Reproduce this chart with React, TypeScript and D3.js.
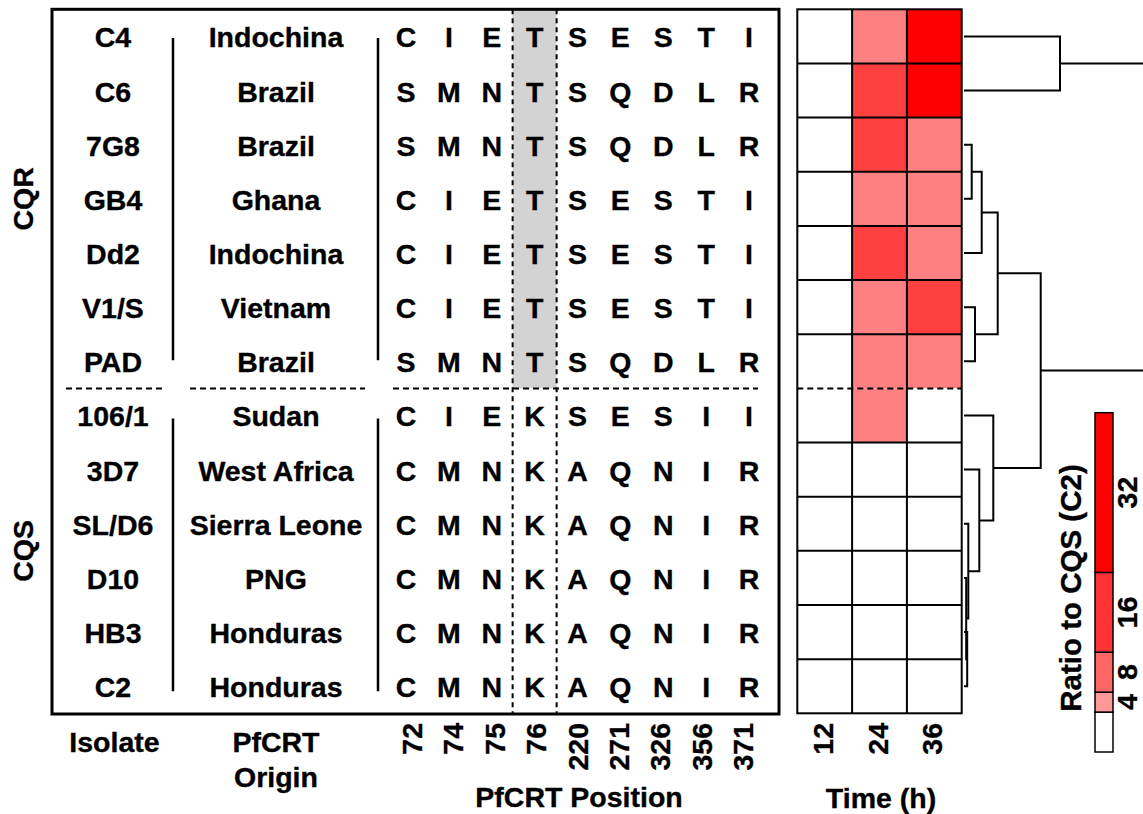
import React from 'react';
import * as d3 from 'd3';

const isolates = ['C4', 'C6', '7G8', 'GB4', 'Dd2', 'V1/S', 'PAD', '106/1', '3D7', 'SL/D6', 'D10', 'HB3', 'C2'];
const origins = ['Indochina', 'Brazil', 'Brazil', 'Ghana', 'Indochina', 'Vietnam', 'Brazil', 'Sudan', 'West Africa', 'Sierra Leone', 'PNG', 'Honduras', 'Honduras'];
const positions = ['72', '74', '75', '76', '220', '271', '326', '356', '371'];
const residues = [
  'CIETSESTI', 'SMNTSQDLR', 'SMNTSQDLR', 'CIETSESTI', 'CIETSESTI', 'CIETSESTI', 'SMNTSQDLR',
  'CIEKSESII', 'CMNKAQNIR', 'CMNKAQNIR', 'CMNKAQNIR', 'CMNKAQNIR', 'CMNKAQNIR',
];
const groups = [
  { name: 'CQR', first: 0, last: 6 },
  { name: 'CQS', first: 7, last: 12 },
];
const highlightPos = '76';
const times = ['12', '24', '36'];
const ratio12 = [1, 1, 1, 1, 1, 1, 1, 1, 1, 1, 1, 1, 1];
const ratio24 = [6, 20, 20, 6, 20, 6, 6, 6, 1, 1, 1, 1, 1];
const ratio36 = [40, 40, 6, 6, 6, 20, 6, 1, 1, 1, 1, 1, 1];
const heatBreaks = [4, 16, 32];
const heatColors = ['#FFFFFF', '#FF8080', '#FF4040', '#FF0000'];
const legendEdges = [-4, 4, 8, 16, 32, 64];
const legendColors = ['#FFFFFF', '#FF9999', '#FF6666', '#FF3333', '#FF0000'];
const legendTicks = [4, 8, 16, 32];

type TNode = { h: number; c: (TNode | string)[] };
const tree: TNode = {
  h: 2.6,
  c: [
    { h: 0.96, c: ['C4', 'C6'] },
    {
      h: 0.767,
      c: [
        {
          h: 0.337,
          c: [
            { h: 0.177, c: [{ h: 0.077, c: ['7G8', 'GB4'] }, 'Dd2'] },
            { h: 0.11, c: ['V1/S', 'PAD'] },
          ],
        },
        {
          h: 0.293,
          c: [
            '106/1',
            {
              h: 0.153,
              c: ['3D7', { h: 0.043, c: ['SL/D6', { h: 0.022, c: ['D10', { h: 0.032, c: ['HB3', 'C2'] }] }] }],
            },
          ],
        },
      ],
    },
  ],
};

const FONT = '"Liberation Sans", Arial, Helvetica, sans-serif';
const W = 1143;
const H = 814;

export default function App() {
  const y = d3.scaleBand<string>().domain(isolates).range([9.3, 713.3]);
  const rc = (name: string) => (y(name) as number) + y.bandwidth() / 2;
  const xPos = d3.scalePoint<string>().domain(positions).range([406, 749]);
  const xTick = d3.scalePoint<string>().domain(positions).range([412, 743]);
  const xTime = d3.scaleBand<string>().domain(times).range([797.3, 961.7]);
  const heatColor = d3.scaleThreshold<number, string>().domain(heatBreaks).range(heatColors);
  const xDend = d3.scaleLinear().domain([0, 1]).range([964, 1064]);
  const yLeg = d3.scaleLinear().domain([legendEdges[0], legendEdges[legendEdges.length - 1]]).range([752, 412.7]);

  const ratios = [ratio12, ratio24, ratio36];
  const cells: { key: string; x: number; y: number; w: number; h: number; fill: string }[] = [];
  times.forEach((t, j) => {
    isolates.forEach((iso, i) => {
      cells.push({
        key: t + iso,
        x: xTime(t) as number,
        y: y(iso) as number,
        w: xTime.bandwidth(),
        h: y.bandwidth(),
        fill: heatColor(ratios[j][i]),
      });
    });
  });

  // dendrogram
  const root = d3.hierarchy<any>(tree, (d: any) =>
    d.c ? d.c.map((x: any) => (typeof x === 'string' ? { name: x } : x)) : null
  );
  const pos = new Map<any, { x: number; y: number }>();
  root.eachAfter((n: any) => {
    if (!n.children) {
      pos.set(n, { x: xDend(0), y: rc(n.data.name) });
    } else {
      const ys = n.children.map((c: any) => pos.get(c)!.y);
      pos.set(n, { x: xDend(n.data.h), y: d3.mean(ys) as number });
    }
  });
  const dendPaths: string[] = [];
  root.each((n: any) => {
    if (n.children) {
      const p = pos.get(n)!;
      const a = pos.get(n.children[0])!;
      const b = pos.get(n.children[1])!;
      dendPaths.push(`M${a.x},${a.y}H${p.x}V${b.y}H${b.x}`);
    }
  });

  const splitY = (y(isolates[groups[0].last]) as number) + y.bandwidth();
  const hiX0 = (xPos(highlightPos) as number) - 22;
  const hiX1 = (xPos(highlightPos) as number) + 22;

  const txt = {
    fontFamily: FONT,
    fontWeight: 700,
    fontSize: 28.5,
    fill: '#000',
    stroke: '#000',
    strokeWidth: 0.35,
  } as const;

  return (
    <svg
      width={W}
      height={H}
      style={{ position: 'absolute', left: 0, top: 0, display: 'block', background: '#fff' }}
    >
      {/* gray highlight */}
      <rect x={hiX0} y={9.3} width={hiX1 - hiX0} height={splitY - 9.3} fill="#D3D3D3" />
      {/* table border */}
      <rect x={52} y={9.3} width={727} height={704.7} fill="none" stroke="#000" strokeWidth={3} />
      {/* vertical dashed lines around highlight */}
      {[hiX0, hiX1].map((x, i) => (
        <line key={i} x1={x} x2={x} y1={9.3} y2={713} stroke="#000" strokeWidth={2} strokeDasharray="5,4" />
      ))}
      {/* horizontal dashed split */}
      {[
        [66, 162],
        [190, 365],
        [393, 758],
      ].map(([a, b], i) => (
        <line key={i} x1={a} x2={b} y1={splitY} y2={splitY} stroke="#000" strokeWidth={2} strokeDasharray="6,4" />
      ))}
      {/* group separator lines */}
      {groups.map((g, gi) =>
        [173, 378].map((x) => (
          <line
            key={g.name + x}
            x1={x}
            x2={x}
            y1={rc(isolates[g.first]) + (gi === 0 ? 1.5 : 3)}
            y2={rc(isolates[g.last]) + (gi === 0 ? -1 : 5)}
            stroke="#000"
            strokeWidth={2.5}
          />
        ))
      )}
      {/* row texts */}
      {isolates.map((iso, i) => (
        <g key={iso}>
          <text x={113} y={rc(iso) + 1} textAnchor="middle" dominantBaseline="central" {...txt}>
            {iso}
          </text>
          <text x={276} y={rc(iso) + 1} textAnchor="middle" dominantBaseline="central" {...txt}>
            {origins[i]}
          </text>
          {positions.map((p, k) => (
            <text key={p} x={xPos(p)} y={rc(iso) + 1} textAnchor="middle" dominantBaseline="central" {...txt}>
              {residues[i][k]}
            </text>
          ))}
        </g>
      ))}
      {/* group labels */}
      {groups.map((g) => {
        const cy = ((y(isolates[g.first]) as number) + (y(isolates[g.last]) as number) + y.bandwidth()) / 2;
        return (
          <text
            key={g.name}
            transform={`translate(23,${cy}) rotate(-90)`}
            textAnchor="middle"
            dominantBaseline="central"
            {...txt}
          >
            {g.name}
          </text>
        );
      })}
      {/* bottom labels */}
      <text x={114.5} y={752} textAnchor="middle" {...txt}>
        Isolate
      </text>
      <text x={276} y={752} textAnchor="middle" {...txt}>
        PfCRT
      </text>
      <text x={276} y={787} textAnchor="middle" {...txt}>
        Origin
      </text>
      <text x={579} y={806.5} textAnchor="middle" {...txt}>
        PfCRT Position
      </text>
      {positions.map((p) => (
        <text
          key={p}
          transform={`translate(${xTick(p)},723) rotate(-90)`}
          textAnchor="end"
          dominantBaseline="central"
          {...txt}
        >
          {p}
        </text>
      ))}
      {/* heatmap */}
      {cells.map((c) => (
        <rect key={c.key} x={c.x} y={c.y} width={c.w} height={c.h} fill={c.fill} />
      ))}
      {times.slice(1).map((t) => (
        <line key={t} x1={xTime(t)} x2={xTime(t)} y1={9.3} y2={713.3} stroke="#000" strokeWidth={2} />
      ))}
      {isolates.slice(1).map((iso, i) => (
        <line
          key={iso}
          x1={797.3}
          x2={961.7}
          y1={y(iso)}
          y2={y(iso)}
          stroke="#000"
          strokeWidth={2}
          strokeDasharray={i === groups[0].last ? '6,4' : undefined}
        />
      ))}
      <rect x={797.3} y={9.3} width={164.4} height={704} fill="none" stroke="#000" strokeWidth={2} />
      {times.map((t) => (
        <text
          key={t}
          transform={`translate(${(xTime(t) as number) + xTime.bandwidth() / 2 - 2},723) rotate(-90)`}
          textAnchor="end"
          dominantBaseline="central"
          {...txt}
        >
          {t}
        </text>
      ))}
      <text x={881} y={807.5} textAnchor="middle" {...txt}>
        Time (h)
      </text>
      {/* dendrogram */}
      {dendPaths.map((d, i) => (
        <path key={i} d={d} fill="none" stroke="#000" strokeWidth={2} />
      ))}
      {/* legend */}
      {legendColors.map((c, i) => (
        <rect
          key={i}
          x={1095}
          y={yLeg(legendEdges[i + 1])}
          width={18}
          height={yLeg(legendEdges[i]) - yLeg(legendEdges[i + 1])}
          fill={c}
          stroke="#000"
          strokeWidth={1.5}
        />
      ))}
      {legendTicks.map((v, i) => (
        <text
          key={v}
          transform={`translate(1127,${yLeg((legendEdges[i + 1] + legendEdges[i + 2]) / 2)}) rotate(-90)`}
          textAnchor="middle"
          dominantBaseline="central"
          {...txt}
        >
          {v}
        </text>
      ))}
      <text
        transform={`translate(1070,588) rotate(-90)`}
        textAnchor="middle"
        dominantBaseline="central"
        {...txt}
        fontSize={29.5}
      >
        Ratio to CQS (C2)
      </text>
    </svg>
  );
}
